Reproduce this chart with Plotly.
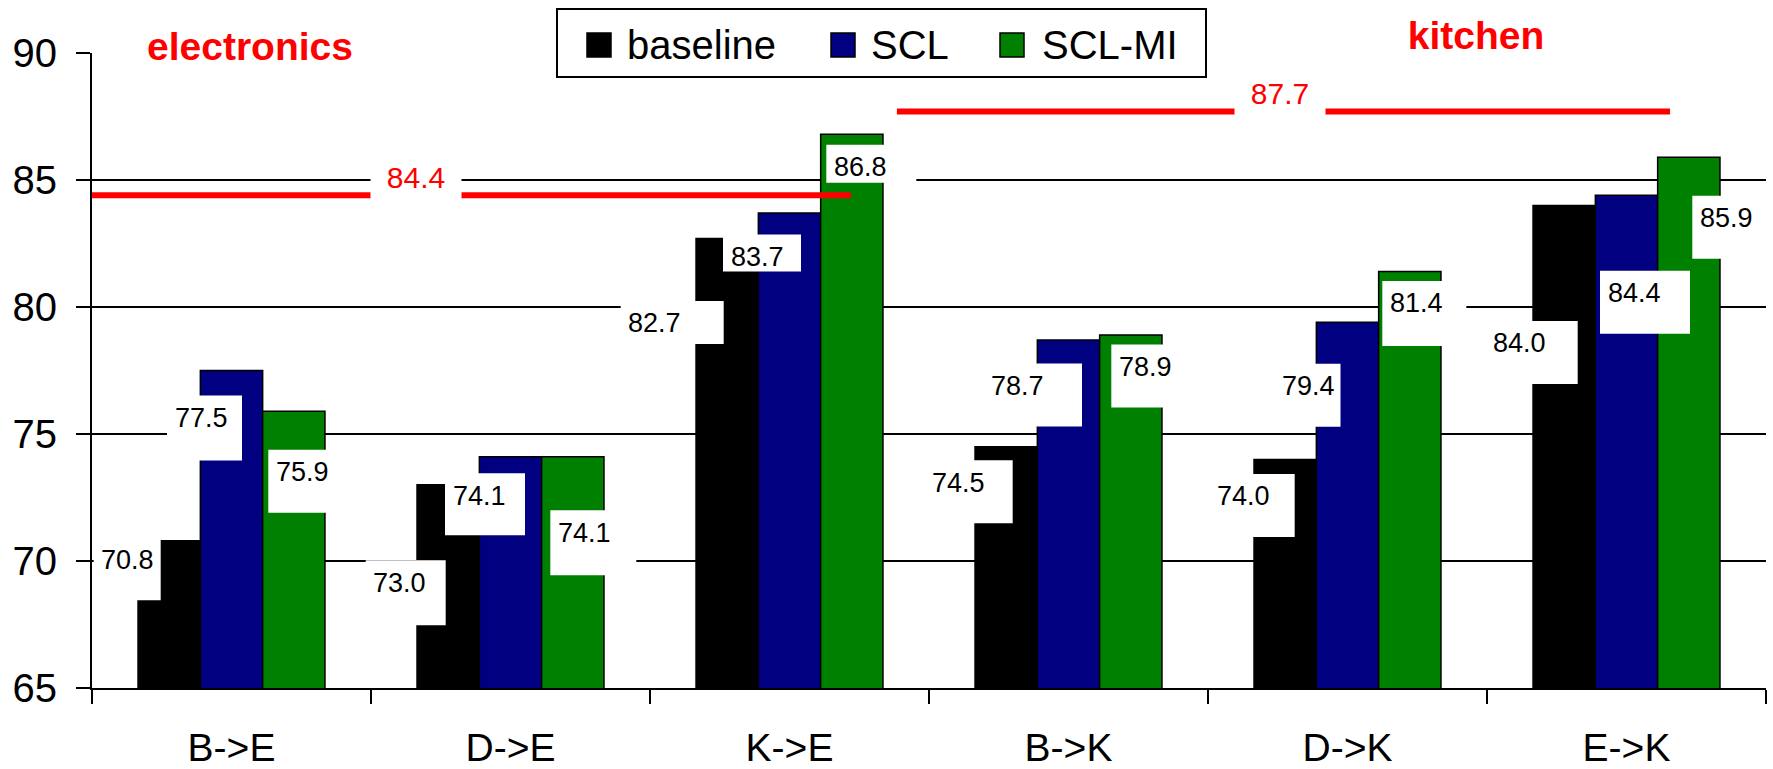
import plotly.graph_objects as go

# ---------------- data ----------------
categories = ["B->E", "D->E", "K->E", "B->K", "D->K", "E->K"]
series_names = ["baseline", "SCL", "SCL-MI"]
baseline = [70.8, 73.0, 82.7, 74.5, 74.0, 84.0]
scl = [77.5, 74.1, 83.7, 78.7, 79.4, 84.4]
scl_mi = [75.9, 74.1, 86.8, 78.9, 81.4, 85.9]
domain_names = ["electronics", "kitchen"]
domain_avg = [84.4, 87.7]
y_ticks = [65, 70, 75, 80, 85, 90]

# ---------------- styling / layout (positions in px) ----------------
W, H = 1773, 769
ML, MR, MT, MB = 92, 7, 53, 81
PW, PH = W - ML - MR, H - MT - MB
FONT = "Liberation Sans, Arial, sans-serif"
colors = ["#000000", "#000080", "#008000"]
BARGAP = 0.33

# label text-centre offsets (px) relative to top-centre of each bar
label_offsets = [
    [(-41.5, 19), (-48.5, 98), (-72.5, 85), (-47.5, 36), (-41.5, 37), (-44.5, 138)],
    [(-30.5, 47.5), (-31.5, 39), (-32.5, 44), (-51.5, 46), (-39, 64), (7.5, 98)],
    [(8.5, 61), (11.5, 76), (8.5, 33), (14.5, 32), (6.5, 32), (37.5, 61)],
]
# white label box sizes (px)
label_box_w = [
    [67, 80, 103, 88, 85, 92],
    [75, 80, 78, 99, 66, 90],
    [85, 86, 90, 88, 84, 90],
]
label_box_h = [
    [63, 65, 43, 63, 63, 63],
    [65, 62, 37, 63, 63, 63],
    [63, 65, 38, 63, 65, 63],
]
BOX_LEFT = -34     # box left edge relative to text centre
BOX_TOP = 22.5     # box top above text centre

avg_spans = [(-0.53, 2.22), (2.385, 5.156)]      # category-index extents of red lines
avg_label_x = [0.661, 3.758]
title_px = [(250, 46), (1476, 35)]


def paper(px, py):
    return (px - ML) / PW, 1 - (py - MT) / PH


series = [baseline, scl, scl_mi]
fig = go.Figure()
for name, vals, col in zip(series_names, series, colors):
    fig.add_trace(go.Bar(
        x=categories, y=vals, name=name,
        marker=dict(color=col, line=dict(color="black", width=1.5)),
        showlegend=False,
    ))

cat_w = PW / len(categories)
bar_w = cat_w * (1 - BARGAP) / len(series)
annotations = []
shapes = []

# data labels: white box (pixel-sized shape anchored to bar top) + text
for s, vals in enumerate(series):
    bar_off = (s - 1) * bar_w
    for i, v in enumerate(vals):
        dx, dy = label_offsets[s][i]
        cx = bar_off + dx
        cy = -dy
        bx0 = cx + BOX_LEFT
        by1 = cy + BOX_TOP
        shapes.append(dict(
            type="rect", xref="x", yref="y",
            xsizemode="pixel", ysizemode="pixel", xanchor=i, yanchor=v,
            x0=bx0, x1=bx0 + label_box_w[s][i],
            y0=by1 - label_box_h[s][i], y1=by1,
            fillcolor="white", line=dict(width=0), layer="above",
        ))
        annotations.append(dict(
            x=i, y=v, xref="x", yref="y", text=f"{v:.1f}", showarrow=False,
            xanchor="center", yanchor="middle",
            xshift=cx, yshift=cy,
            font=dict(family=FONT, size=27, color="black"),
        ))

# red average lines with labels
for (x0, x1), v, lx in zip(avg_spans, domain_avg, avg_label_x):
    shapes.append(dict(type="line", xref="x", yref="y", x0=x0, x1=x1, y0=v, y1=v,
                       line=dict(color="#ff0000", width=6), layer="above"))
    annotations.append(dict(
        x=lx, y=v, xref="x", yref="y", text=f"{v}", showarrow=False,
        xanchor="center", yanchor="middle", yshift=18,
        font=dict(family=FONT, size=30, color="#ff0000"),
        bgcolor="white", borderpad=4, width=82, height=40,
    ))

# domain titles
for name, (px, py) in zip(domain_names, title_px):
    xp, yp = paper(px, py)
    annotations.append(dict(
        x=xp, y=yp, xref="paper", yref="paper", text=f"<b>{name}</b>",
        showarrow=False, xanchor="center", yanchor="middle",
        font=dict(family=FONT, size=39, color="#ff0000"),
        bgcolor="white", borderpad=4, width=250, height=44,
    ))

# manual legend
lx0, ly0 = paper(557, 9)
lx1, ly1 = paper(1206, 77)
shapes.append(dict(type="rect", xref="paper", yref="paper", x0=lx0, x1=lx1, y0=ly0, y1=ly1,
                   line=dict(color="black", width=2), fillcolor="white", layer="above"))
legend_sq_x = [587, 831, 1000]
legend_txt_x = [625, 869, 1040]
for name, col, sx, tx in zip(series_names, colors, legend_sq_x, legend_txt_x):
    a0, b0 = paper(sx, 33)
    a1, b1 = paper(sx + 24, 57)
    shapes.append(dict(type="rect", xref="paper", yref="paper", x0=a0, x1=a1, y0=b0, y1=b1,
                       line=dict(color="black", width=1.5), fillcolor=col, layer="above"))
    txp, typ = paper(tx, 45)
    annotations.append(dict(
        x=txp, y=typ, xref="paper", yref="paper", text=name, showarrow=False,
        xanchor="left", yanchor="middle",
        font=dict(family=FONT, size=40, color="black"),
    ))

fig.update_layout(
    width=W, height=H, autosize=False,
    margin=dict(l=ML, r=MR, t=MT, b=MB, pad=0, autoexpand=False),
    paper_bgcolor="white", plot_bgcolor="white",
    barmode="group", bargap=BARGAP, bargroupgap=0,
    showlegend=False,
    shapes=shapes, annotations=annotations,
    xaxis=dict(
        type="category", range=[-0.5, 5.5], automargin=False,
        showline=True, linecolor="black", linewidth=2,
        ticks="outside", tickson="boundaries", ticklen=14, tickwidth=2, tickcolor="black",
        tickfont=dict(family=FONT, size=39, color="black"),
        ticklabelstandoff=24,
        showgrid=False, zeroline=False,
    ),
    yaxis=dict(
        range=[65, 90], tickvals=y_ticks, automargin=False,
        showgrid=True, gridcolor="black", gridwidth=2,
        showline=True, linecolor="black", linewidth=2,
        ticks="outside", ticklen=14, tickwidth=2, tickcolor="black",
        tickfont=dict(family=FONT, size=40, color="black"),
        ticklabelstandoff=11,
        zeroline=False,
    ),
)

fig.write_html(
    "out.html",
    config={"displayModeBar": False},
    post_script="document.body.style.margin='0';document.body.style.overflow='hidden';",
)
